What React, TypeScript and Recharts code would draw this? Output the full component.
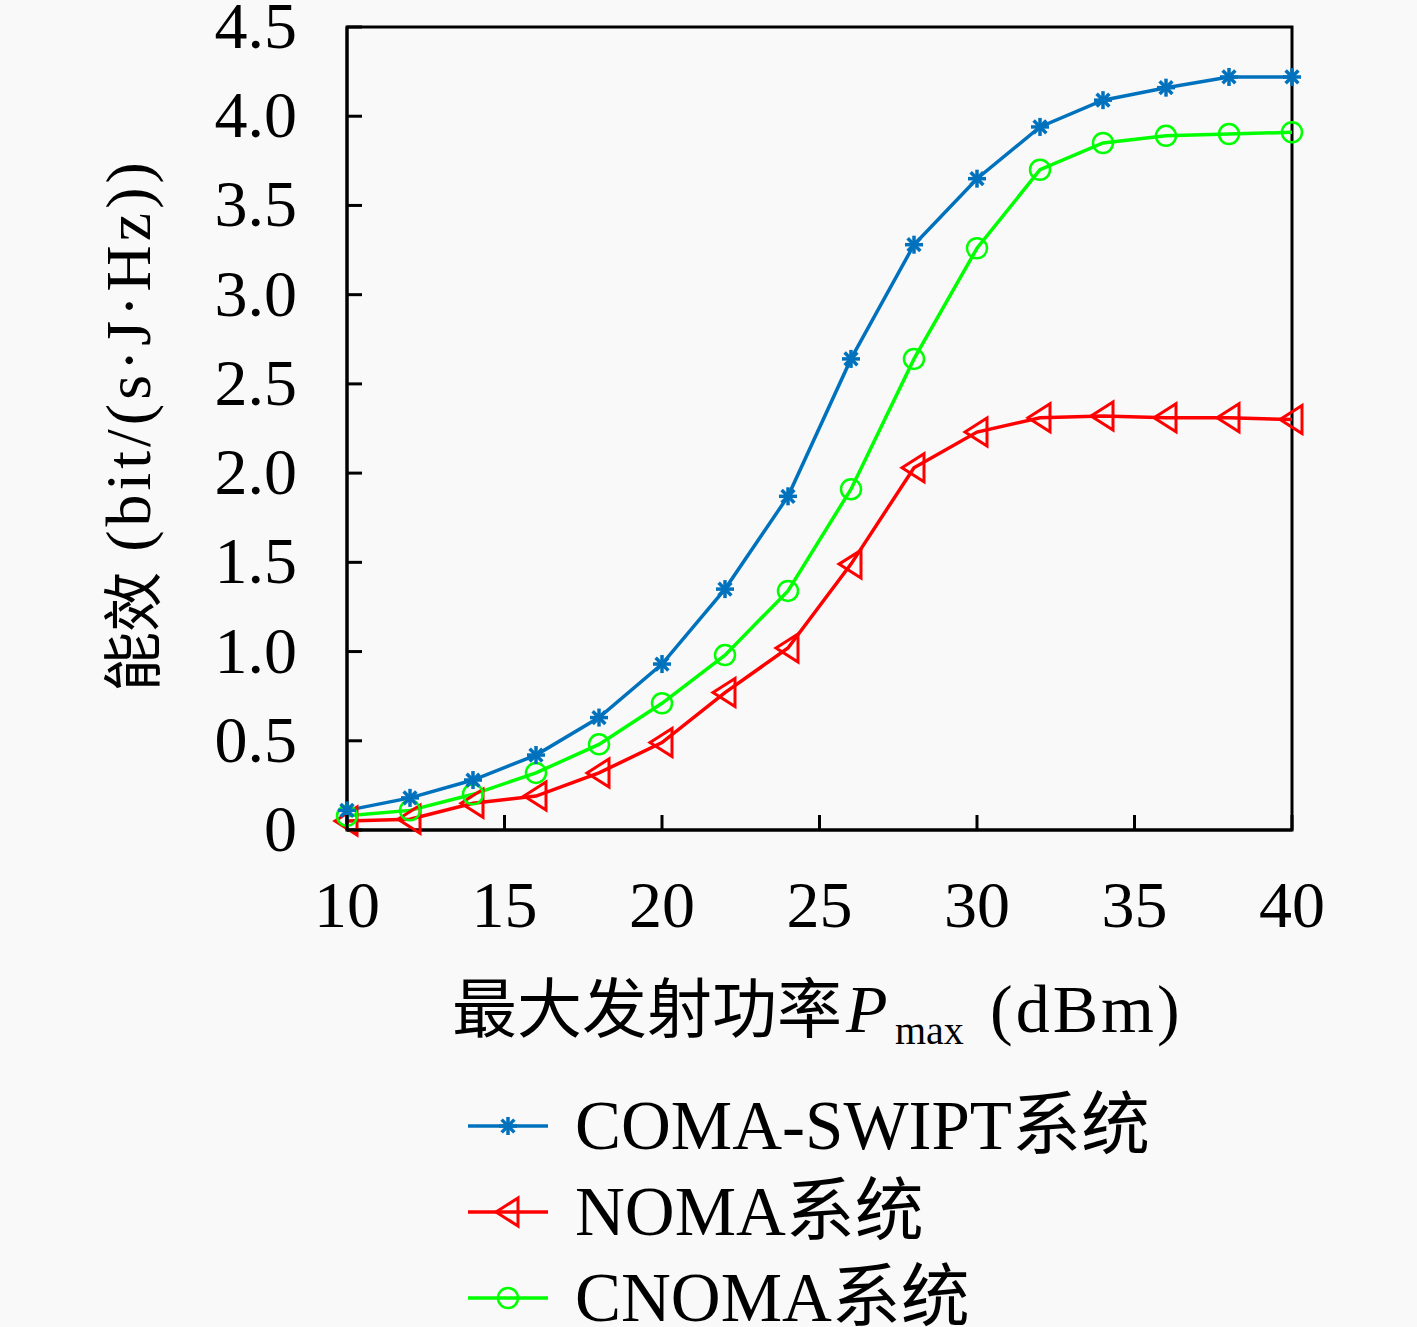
import React from 'react';
import {
  Label,
  Line,
  LineChart,
  ReferenceArea,
  XAxis,
  YAxis,
} from 'recharts';

const power = [10, 12, 14, 16, 18, 20, 22, 24, 26, 28, 30, 32, 34, 36, 38, 40];
const comaSwipt = [0.11, 0.18, 0.28, 0.42, 0.63, 0.93, 1.35, 1.87, 2.64, 3.28, 3.65, 3.94, 4.09, 4.16, 4.22, 4.22];
const noma = [0.05, 0.06, 0.15, 0.19, 0.32, 0.49, 0.77, 1.02, 1.49, 2.03, 2.23, 2.31, 2.32, 2.31, 2.31, 2.3];
const cnoma = [0.08, 0.11, 0.2, 0.32, 0.48, 0.71, 0.98, 1.34, 1.91, 2.64, 3.26, 3.7, 3.85, 3.89, 3.9, 3.91];

const xTicks = [10, 15, 20, 25, 30, 35, 40];
const yTicks = [0, 0.5, 1, 1.5, 2, 2.5, 3, 3.5, 4, 4.5];

const seriesNames = ['COMA-SWIPT系统', 'NOMA系统', 'CNOMA系统'];

const BLUE = '#0072bd';
const RED = '#ff0000';
const GREEN = '#00ff00';
const FONT = "'Liberation Serif', 'Noto Sans CJK SC', serif";
const CJK = "'Noto Sans CJK SC', sans-serif";

const data = power.map((p, i) => ({
  p,
  coma: comaSwipt[i],
  noma: noma[i],
  cnoma: cnoma[i],
}));

const Star = ({ cx, cy, color = BLUE }: any) => {
  const r = 9;
  const d = r * 0.707;
  return (
    <g stroke={color} strokeWidth={3.5}>
      <line x1={cx - r} y1={cy} x2={cx + r} y2={cy} />
      <line x1={cx} y1={cy - r} x2={cx} y2={cy + r} />
      <line x1={cx - d} y1={cy - d} x2={cx + d} y2={cy + d} />
      <line x1={cx - d} y1={cy + d} x2={cx + d} y2={cy - d} />
    </g>
  );
};

const Tri = ({ cx, cy, color = RED }: any) => (
  <polygon
    points={`${cx - 12},${cy} ${cx + 10},${cy - 14} ${cx + 10},${cy + 14}`}
    fill="none"
    stroke={color}
    strokeWidth={3}
  />
);

const Ring = ({ cx, cy, color = GREEN }: any) => (
  <circle cx={cx} cy={cy} r={10} fill="none" stroke={color} strokeWidth={2.5} />
);

const XTick = ({ x, y, payload }: any) => (
  <g>
    <line x1={x} y1={y} x2={x} y2={y - 15} stroke="#000" strokeWidth={3} />
    <text x={x} y={y + 97} textAnchor="middle" fontSize={66} fontFamily={FONT} fill="#000">
      {payload.value}
    </text>
  </g>
);

const YTick = ({ x, y, payload }: any) => (
  <g>
    <line x1={x} y1={y} x2={x + 15} y2={y} stroke="#000" strokeWidth={3} />
    <text x={x - 50} y={y + 21} textAnchor="end" fontSize={66} fontFamily={FONT} fill="#000">
      {payload.value === 0 ? '0' : payload.value.toFixed(1)}
    </text>
  </g>
);

const XTitle = () => (
  <text y={1032} fontSize={65} fontFamily={FONT} fill="#000">
    <tspan x={452} fontFamily={CJK}>最大发射功率</tspan>
    <tspan x={846} fontStyle="italic" fontSize={68}>P</tspan>
    <tspan x={895} dy={12} fontSize={40}>max</tspan>
    <tspan x={990} dy={-12} fontSize={68} letterSpacing={3}>(dBm)</tspan>
  </text>
);

const YTitle = () => (
  <text
    x={128}
    y={425}
    transform="rotate(-90, 128, 425)"
    textAnchor="middle"
    dominantBaseline="central"
    fontSize={64}
    fontFamily={FONT}
    fill="#000"
  >
    <tspan fontFamily={CJK} fontSize={60}>能效</tspan>
    <tspan letterSpacing={4}> (bit/(s·J·Hz))</tspan>
  </text>
);

const legendRows = [
  { name: seriesNames[0], color: BLUE, Marker: Star },
  { name: seriesNames[1], color: RED, Marker: Tri },
  { name: seriesNames[2], color: GREEN, Marker: Ring },
];

export default function App() {
  return (
    <div
      style={{
        position: 'absolute',
        left: 0,
        top: 0,
        width: 1417,
        height: 1327,
        background: '#f9f9f9',
        overflow: 'hidden',
      }}
    >
      <LineChart
        width={1417}
        height={1327}
        data={data}
        margin={{ top: 27, right: 125, left: 0, bottom: 397 }}
      >
        <XAxis
          dataKey="p"
          type="number"
          domain={[10, 40]}
          ticks={xTicks}
          height={100}
          tickSize={0}
          tickMargin={0}
          tickLine={false}
          tick={<XTick />}
          axisLine={{ stroke: '#000', strokeWidth: 3 }}
        >
          <Label content={<XTitle />} />
        </XAxis>
        <YAxis
          type="number"
          domain={[0, 4.5]}
          ticks={yTicks}
          width={347}
          tickSize={0}
          tickMargin={0}
          tickLine={false}
          tick={<YTick />}
          axisLine={{ stroke: '#000', strokeWidth: 3 }}
        >
          <Label content={<YTitle />} />
        </YAxis>
        <ReferenceArea
          x1={10}
          x2={40}
          y1={0}
          y2={4.5}
          fill="none"
          fillOpacity={0}
          stroke="#000"
          strokeWidth={3}
        />
        <Line
          dataKey="noma"
          name={seriesNames[1]}
          stroke={RED}
          strokeWidth={3.5}
          dot={<Tri />}
          isAnimationActive={false}
        />
        <Line
          dataKey="cnoma"
          name={seriesNames[2]}
          stroke={GREEN}
          strokeWidth={3.5}
          dot={<Ring />}
          isAnimationActive={false}
        />
        <Line
          dataKey="coma"
          name={seriesNames[0]}
          stroke={BLUE}
          strokeWidth={3.5}
          dot={<Star />}
          isAnimationActive={false}
        />
      </LineChart>
      <svg
        width={1417}
        height={1327}
        style={{ position: 'absolute', left: 0, top: 0, pointerEvents: 'none' }}
      >
        {legendRows.map((row, i) => {
          const cy = 1126 + i * 86;
          const M = row.Marker;
          return (
            <g key={row.name}>
              <line x1={468} y1={cy} x2={548} y2={cy} stroke={row.color} strokeWidth={3.5} />
              <M cx={508} cy={cy} color={row.color} />
              <text x={575} y={cy + 23} fontSize={69} fontFamily={FONT} fill="#000">
                {row.name}
              </text>
            </g>
          );
        })}
      </svg>
    </div>
  );
}
